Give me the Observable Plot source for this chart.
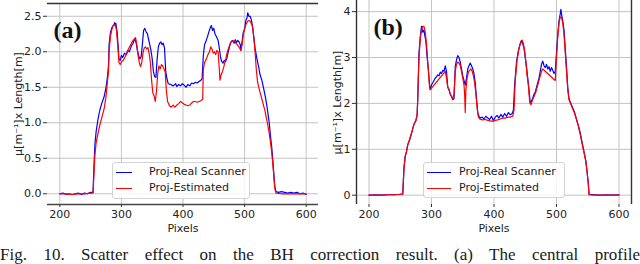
<!DOCTYPE html>
<html>
<head>
<meta charset="utf-8">
<script src="https://cdn.jsdelivr.net/npm/d3@7"></script>
<script src="https://cdn.jsdelivr.net/npm/@observablehq/plot@0.6"></script>
<style>
  html, body { margin: 0; padding: 0; background: #fff; }
  #root { position: relative; width: 640px; height: 264px; overflow: hidden; background: #fff; }
  .panel { position: absolute; top: 0; }
  .legend { position: absolute; border: 1px solid #d4d4d4; border-radius: 3px; background: rgba(255,255,255,0.85);
            font-family: "DejaVu Sans", sans-serif; font-size: 11px; color: #222; box-sizing: border-box; }
  .legend .row { position: absolute; left: 0; height: 14px; line-height: 14px; white-space: nowrap; }
  .legend .swatch { position: absolute; top: 7px; height: 0; border-top: 1.3px solid; }
  .legend .lbl { position: absolute; top: 0; }
  #caption { position: absolute; left: 0; top: 246px; width: 640px; font-family: "Liberation Serif", "Times New Roman", serif;
             font-size: 17px; line-height: 17px; text-align: justify; text-align-last: justify; color: #1a1a1a; }
</style>
</head>
<body>
<div id="root"></div>
<script>
// ---------- data ----------
const seriesNames = ["Proj-Real Scanner", "Proj-Estimated"];
const seriesColors = ["#0000ff", "#ff0000"];
const xTicks = [200, 300, 400, 500, 600];
const xLabel = "Pixels";
const yLabelA = "μ[m⁻¹]x Length[m]";
const yLabelB = "μ[m⁻¹]x Length[m]";
const yTicksA = [0, 0.5, 1.0, 1.5, 2.0, 2.5];
const yTicksB = [0, 1, 2, 3, 4];
const panelTags = ["(a)", "(b)"];
const captionText = "Fig. 10. Scatter effect on the BH correction result. (a) The central profile";

// Panel (a): Proj-Real Scanner
const aBlue = [[200,0.0],[205,0.01],[210,-0.01],[215,0.0],[220,-0.01],[225,0.0],[230,0.01],[235,-0.01],[240,0.01],[245,0.0],[250,0.02],[254,0.02],
[255,0.3],[257,0.7],[259,0.88],[262,1.05],[265,1.18],[268,1.27],[272,1.37],[275,1.5],[277,1.62],[279,1.8],[280,2.1],[282,2.26],[284,2.33],[286,2.36],
[288,2.38],[289,2.41],[290,2.37],[291,2.4],[293,2.28],[295,2.05],[296,1.9],[298,1.88],[300,1.95],[302,1.92],[305,1.98],[308,1.96],[310,2.02],[313,2.0],
[316,2.08],[319,2.12],[322,2.19],[324,2.12],[326,2.02],[328,1.95],[330,1.9],[332,1.93],[334,2.1],[336,2.3],[338,2.33],[340,2.28],[342,2.26],[344,2.18],
[346,2.1],[348,2.02],[350,1.9],[352,1.72],[354,1.65],[356,1.64],[358,1.9],[360,2.07],[362,2.12],[364,2.14],[366,2.1],[368,2.12],[370,2.05],[372,1.72],
[374,1.62],[376,1.55],[380,1.54],[384,1.52],[388,1.55],[390,1.51],[393,1.54],[396,1.52],[399,1.55],[402,1.53],[405,1.5],[408,1.54],[411,1.52],[414,1.56],
[417,1.55],[420,1.57],[423,1.56],[426,1.58],[429,1.6],[431,1.62],[433,1.95],[435,2.1],[437,2.14],[440,2.22],[442,2.28],[444,2.33],[446,2.37],[448,2.3],
[450,2.33],[452,2.25],[455,2.2],[457,2.16],[459,2.05],[461,1.92],[463,1.86],[465,1.84],[467,1.88],[469,1.86],[471,1.9],[473,1.98],[475,2.05],[477,2.12],
[479,2.15],[481,2.16],[483,2.12],[485,2.17],[487,2.13],[489,2.16],[491,2.14],[493,2.1],[494,2.02],[496,2.15],[498,2.28],[500,2.32],[502,2.44],[504,2.48],
[505,2.55],[507,2.5],[509,2.5],[511,2.45],[513,2.35],[515,2.2],[517,2.05],[519,1.95],[521,1.86],[523,1.78],[525,1.68],[528,1.6],[531,1.48],[534,1.35],
[536,1.25],[538,1.13],[540,1.0],[542,0.82],[544,0.66],[546,0.45],[548,0.22],[549,0.1],[551,0.03],[555,0.02],[560,0.03],[565,0.02],[570,0.01],[575,0.02],
[580,0.01],[585,0.02],[590,0.0],[595,0.01],[600,-0.01]];

// Panel (a): Proj-Estimated
const aRed = [[200,0.0],[210,0.0],[220,-0.01],[230,0.0],[240,0.0],[250,0.01],[254,0.01],[255,0.2],[257,0.55],[259,0.72],[262,0.85],[265,0.97],[268,1.07],
[272,1.2],[275,1.37],[277,1.55],[279,1.72],[280,2.0],[282,2.2],[284,2.3],[286,2.36],[288,2.38],[290,2.38],[292,2.3],[294,2.1],[296,1.85],[298,1.82],
[300,1.86],[303,1.88],[306,1.93],[309,1.98],[312,2.05],[315,2.1],[318,2.15],[321,2.18],[323,2.2],[325,2.1],[327,1.95],[329,1.85],[331,1.79],[333,1.85],
[335,1.98],[337,2.05],[339,2.07],[341,2.04],[343,2.06],[345,1.98],[347,1.85],[349,1.6],[351,1.42],[353,1.38],[355,1.3],[357,1.45],[359,1.7],[361,1.8],
[363,1.76],[365,1.82],[367,1.8],[369,1.76],[371,1.72],[373,1.45],[375,1.3],[378,1.24],[381,1.22],[384,1.25],[387,1.22],[390,1.25],[393,1.27],[396,1.3],
[399,1.28],[402,1.26],[405,1.25],[408,1.24],[411,1.25],[414,1.28],[417,1.3],[420,1.3],[423,1.29],[426,1.3],[429,1.31],[432,1.33],[433,1.75],[435,1.85],
[438,1.9],[440,1.95],[443,2.0],[445,2.07],[447,2.04],[449,1.98],[451,2.0],[453,1.96],[455,2.02],[457,2.0],[459,1.75],[460,1.6],[462,1.68],[464,1.72],
[466,1.78],[468,1.85],[470,1.92],[472,2.0],[474,2.05],[476,2.1],[478,2.14],[480,2.15],[482,2.14],[484,2.16],[486,2.12],[488,2.1],[490,2.08],[492,2.05],
[494,2.02],[496,2.1],[498,2.25],[500,2.32],[502,2.38],[505,2.43],[507,2.44],[509,2.43],[511,2.4],[513,2.35],[515,2.2],[517,2.0],[519,1.75],[521,1.58],
[523,1.5],[526,1.4],[530,1.27],[533,1.17],[537,1.0],[540,0.85],[543,0.66],[545,0.5],[547,0.3],[549,0.08],[551,0.01],[560,0.0],[570,0.0],[580,0.0],
[590,0.0],[600,0.0]];

// Panel (b): Proj-Real Scanner
const bBlue = [[200,0.0],[210,0.01],[220,0.0],[230,0.01],[240,0.01],[250,0.02],[254,0.03],[256,0.6],[258,0.85],[260,0.95],[262,1.1],[265,1.2],[268,1.35],
[270,1.45],[272,1.55],[275,1.62],[277,1.75],[278,2.1],[279,2.6],[280,3.1],[282,3.45],[284,3.68],[286,3.55],[288,3.6],[289,3.5],[291,3.35],[293,3.0],
[295,2.75],[297,2.4],[298,2.3],[300,2.4],[302,2.45],[304,2.5],[306,2.55],[308,2.58],[310,2.62],[312,2.6],[314,2.68],[316,2.65],[318,2.72],[320,2.7],
[322,2.82],[324,2.7],[326,2.35],[328,2.3],[330,2.2],[332,2.15],[334,2.08],[336,2.1],[338,2.8],[340,2.95],[342,3.04],[344,3.0],[346,2.9],[348,2.75],
[350,2.6],[352,2.5],[354,2.4],[356,2.55],[358,2.75],[360,2.82],[362,2.88],[364,2.82],[366,2.75],[368,2.65],[370,2.45],[372,2.1],[374,1.8],[376,1.72],
[378,1.68],[381,1.7],[384,1.66],[387,1.72],[390,1.68],[393,1.65],[396,1.72],[399,1.62],[402,1.7],[405,1.74],[408,1.68],[411,1.76],[414,1.7],[417,1.78],
[420,1.72],[423,1.8],[426,1.75],[429,1.78],[431,1.85],[433,2.4],[436,2.9],[439,3.15],[442,3.3],[444,3.37],[446,3.3],[448,3.2],[450,3.0],[452,2.8],
[454,2.55],[456,2.3],[458,2.0],[460,2.05],[462,2.12],[464,2.2],[466,2.25],[468,2.35],[470,2.45],[472,2.55],[474,2.7],[476,2.85],[478,2.92],[480,2.82],
[482,2.78],[484,2.85],[486,2.75],[488,2.8],[490,2.7],[492,2.78],[494,2.72],[496,2.65],[498,2.7],[500,3.1],[502,3.5],[504,3.8],[506,3.95],[507,4.05],
[508,3.95],[510,3.8],[512,3.6],[514,3.2],[516,2.8],[518,2.35],[520,2.1],[523,2.0],[526,1.9],[529,1.8],[532,1.65],[535,1.52],[538,1.35],[541,1.15],
[544,0.95],[547,0.75],[549,0.5],[551,0.25],[552,0.02],[560,0.01],[570,0.0],[580,0.01],[590,0.0],[600,0.01]];

// Panel (b): Proj-Estimated
const bRed = [[200,0.0],[210,0.0],[220,0.0],[230,0.01],[240,0.01],[250,0.02],[254,0.02],[256,0.6],[258,0.85],[260,0.95],[262,1.1],[265,1.22],[268,1.35],
[270,1.45],[272,1.55],[275,1.63],[277,1.75],[278,2.1],[279,2.6],[280,3.0],[282,3.4],[284,3.6],[286,3.68],[288,3.68],[290,3.55],[292,3.3],[294,2.9],
[296,2.5],[297,2.35],[298,2.3],[322,2.7],[324,2.55],[326,2.35],[328,2.3],[330,2.2],[332,2.15],[334,2.1],[336,2.2],[338,2.7],[340,2.85],[342,2.9],
[344,2.88],[346,2.82],[348,2.7],[350,2.55],[352,2.4],[353,2.2],[354,1.8],[355,2.3],[357,2.55],[359,2.68],[361,2.72],[363,2.75],[365,2.7],[367,2.6],
[369,2.45],[371,2.2],[373,1.9],[375,1.7],[378,1.65],[382,1.64],[386,1.65],[390,1.63],[394,1.62],[398,1.61],[402,1.63],[406,1.64],[410,1.66],[414,1.68],
[418,1.68],[422,1.7],[426,1.7],[430,1.72],[432,1.85],[434,2.5],[437,2.95],[440,3.2],[443,3.35],[445,3.38],[447,3.3],[449,3.15],[451,2.9],[453,2.6],
[455,2.4],[457,2.05],[459,1.97],[461,2.05],[464,2.15],[467,2.25],[470,2.4],[473,2.55],[476,2.7],[478,2.75],[498,2.5],[500,3.0],[502,3.45],[504,3.75],
[506,3.88],[508,3.88],[510,3.75],[512,3.5],[514,3.1],[516,2.7],[518,2.3],[520,2.08],[523,1.98],[526,1.88],[529,1.78],[532,1.65],[535,1.5],[538,1.32],
[541,1.12],[544,0.93],[547,0.72],[549,0.5],[551,0.22],[552,0.01],[560,0.0],[570,0.0],[580,0.0],[590,0.0],[600,0.0]];

// ---------- drawing ----------
const root = document.getElementById("root");
const baseStyle = {fontFamily: "DejaVu Sans, sans-serif", fontSize: "11px", color: "#222", background: "transparent", overflow: "visible"};
const gridColor = "#c4c4c4";

function makePanel({left, width, height, marginLeft, marginRight, marginTop, marginBottom, yDomain, yTicks, yFmt, blue, red, tag, tagDx, yLabel, yLabelDx, spines}) {
  const spineMarks = spines === "tb"
    ? [Plot.ruleY([yDomain[0]], {stroke: "#444", strokeWidth: 1.6}), Plot.ruleY([yDomain[1]], {stroke: "#333", strokeWidth: 1.6})]
    : [Plot.ruleX([180, 620], {stroke: "#333", strokeWidth: 1.4})];
  const chart = Plot.plot({
    width, height, marginLeft, marginRight, marginTop, marginBottom,
    style: baseStyle,
    x: {domain: [180, 620]},
    y: {domain: yDomain},
    marks: [
      Plot.gridX({ticks: xTicks, stroke: gridColor, strokeOpacity: 1, strokeWidth: 1}),
      Plot.gridY({ticks: yTicks, stroke: gridColor, strokeOpacity: 1, strokeWidth: 1}),
      Plot.axisX({ticks: xTicks, tickSize: 3, tickPadding: 3, label: null, tickFormat: d3.format("d"), stroke: "#333"}),
      Plot.axisY({ticks: yTicks, tickSize: 4, tickPadding: 2, label: null, tickFormat: yFmt, stroke: "#333"}),
      ...spineMarks,
      Plot.line(blue, {x: d => d[0], y: d => d[1], stroke: seriesColors[0], strokeWidth: 1.2}),
      Plot.line(red, {x: d => d[0], y: d => d[1], stroke: seriesColors[1], strokeWidth: 1.2}),
      Plot.text([tag], {frameAnchor: "top-left", text: d => d, dx: tagDx, dy: 27, textAnchor: "start", lineAnchor: "middle",
        fontFamily: "Liberation Serif, Times New Roman, serif", fontWeight: "bold", fontSize: 24, fill: "#111"}),
      Plot.text([xLabel], {frameAnchor: "bottom", text: d => d, dy: 24, lineAnchor: "middle", textAnchor: "middle", fontSize: 11, fill: "#222"}),
      Plot.text([yLabel], {frameAnchor: "left", text: d => d, dx: yLabelDx, rotate: -90, lineAnchor: "middle", textAnchor: "middle", fontSize: 11, fill: "#222"})
    ]
  });
  const wrap = document.createElement("div");
  wrap.className = "panel";
  wrap.style.left = left + "px";
  wrap.appendChild(chart);
  root.appendChild(wrap);
}

makePanel({left: 0, width: 320, height: 240, marginLeft: 47, marginRight: 2, marginTop: 3, marginBottom: 36,
  yDomain: [-0.151, 2.68], yTicks: yTicksA, yFmt: d3.format(".1f"), blue: aBlue, red: aRed,
  tag: panelTags[0], tagDx: 6, yLabel: yLabelA, yLabelDx: -29, spines: "tb"});

makePanel({left: 320, width: 320, height: 240, marginLeft: 36, marginRight: 9, marginTop: 0, marginBottom: 36,
  yDomain: [-0.203, 4.242], yTicks: yTicksB, yFmt: d3.format("d"), blue: bBlue, red: bRed,
  tag: panelTags[1], tagDx: 17, yLabel: yLabelB, yLabelDx: -19, spines: "lr"});

// legends
function makeLegend({left, top, width, height, swLeft, swWidth, textLeft, rowTops}) {
  const box = document.createElement("div");
  box.className = "legend";
  Object.assign(box.style, {left: left + "px", top: top + "px", width: width + "px", height: height + "px"});
  seriesNames.forEach((name, i) => {
    const row = document.createElement("div");
    row.className = "row";
    row.style.top = rowTops[i] + "px";
    const sw = document.createElement("div");
    sw.className = "swatch";
    Object.assign(sw.style, {left: swLeft + "px", width: swWidth + "px", borderTopColor: seriesColors[i]});
    const lb = document.createElement("div");
    lb.className = "lbl";
    lb.style.left = textLeft + "px";
    lb.textContent = name;
    row.appendChild(sw); row.appendChild(lb);
    box.appendChild(row);
  });
  root.appendChild(box);
}
makeLegend({left: 112, top: 162, width: 138, height: 37, swLeft: 3, swWidth: 16, textLeft: 36, rowTops: [2, 18]});
makeLegend({left: 423, top: 162, width: 142, height: 36, swLeft: 3, swWidth: 24, textLeft: 35, rowTops: [2, 18]});

// caption
const cap = document.createElement("div");
cap.id = "caption";
cap.textContent = captionText;
root.appendChild(cap);
</script>
</body>
</html>
